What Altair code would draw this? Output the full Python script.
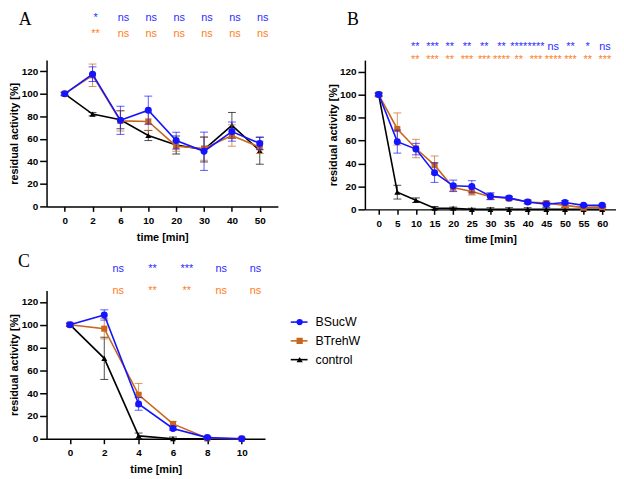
import altair as alt
import pandas as pd

SERIES = ["BSucW", "BTrehW", "control"]
DRAW_ORDER = ["control", "BTrehW", "BSucW"]
COLORS = {"BSucW": "#1414ff", "BTrehW": "#c8661a", "control": "#000000"}
SHAPES = {"BSucW": "circle", "BTrehW": "square", "control": "triangle-up"}
SIZES = {"BSucW": 50, "BTrehW": 38, "control": 36}
STAR_BLUE = "#2a2aff"
STAR_ORANGE = "#ff7d22"

# ---------------- Panel A ----------------
A_time = [0, 2, 6, 10, 20, 30, 40, 50]
A_sucw = [100, 117.5, 76.5, 85.5, 58.5, 49, 66.5, 56]
A_sucw_err = [1.5, 6.5, 12.5, 12.5, 7.5, 17, 8.5, 5.5]
A_treh = [100, 116.5, 76, 75.5, 53.5, 51.5, 63, 52.5]
A_treh_err = [1.5, 10, 9, 8, 4.5, 10.5, 9.5, 5.5]
A_ctrl = [100, 82, 77, 63, 54.5, 50.5, 72, 49.5]
A_ctrl_err = [1, 1.5, 8, 4.5, 8, 11, 11.5, 12]
A_star_time = [2, 6, 10, 20, 30, 40, 50]
A_star_sucw = ["*", "ns", "ns", "ns", "ns", "ns", "ns"]
A_star_treh = ["**", "ns", "ns", "ns", "ns", "ns", "ns"]

# ---------------- Panel B ----------------
B_time = [0, 5, 10, 15, 20, 25, 30, 35, 40, 45, 50, 55, 60]
B_sucw = [100, 59, 52.5, 32, 20.5, 20, 11.5, 10, 6.5, 4.5, 6, 3.5, 3.5]
B_sucw_err = [1.5, 10, 5, 8.5, 5, 5, 3, 1.5, 1.5, 1.5, 1.5, 1, 1]
B_treh = [100, 70, 53, 38.5, 19, 15.5, 11, 9.5, 6.5, 5.5, 3.5, 1.5, 2]
B_treh_err = [2, 14, 8, 8, 3, 3, 2.5, 1.5, 1.5, 1.5, 1.5, 1, 1]
B_ctrl = [100, 15, 8, 1, 1, 0, 0, 0, 0, 0, 0, 0, 0]
B_ctrl_err = [1, 6, 2, 1.5, 1, 1, 1.5, 1.5, 1.5, 1.5, 1.5, 1.5, 1.5]
B_star_time = [5, 10, 15, 20, 25, 30, 35, 40, 45, 50, 55, 60]
B_star_sucw = ["**", "***", "**", "**", "**", "**", "****", "****", "ns", "**", "*", "ns"]
B_star_treh = ["**", "***", "**", "***", "***", "****", "**", "***", "****", "***", "**", "***"]

# ---------------- Panel C ----------------
C_time = [0, 2, 4, 6, 8, 10]
C_sucw = [100, 108.5, 30.5, 9, 1, 0]
C_sucw_err = [1.5, 4.5, 5.5, 1.5, 1, 0.5]
C_treh = [100, 96.5, 38.5, 13, 0.5, 0]
C_treh_err = [1.5, 9, 10, 2, 0.5, 0.5]
C_ctrl = [100, 70.5, 2.5, 0, 0, 0]
C_ctrl_err = [1, 18.5, 2.5, 1.5, 1.5, 0.5]
C_star_time = [2, 4, 6, 8, 10]
C_star_sucw = ["ns", "**", "***", "ns", "ns"]
C_star_treh = ["ns", "**", "**", "ns", "ns"]

FONT = "Liberation Sans"


def series_df(times, vals, errs):
    return pd.DataFrame({
        "t": times,
        "v": vals,
        "lo": [max(v - e, 0) for v, e in zip(vals, errs)],
        "hi": [v + e for v, e in zip(vals, errs)],
    })


def panel(times, data, star_time, star_s, star_t, letter, w, h, pad,
          y_blue, y_orange, star_dx, letter_x, letter_y, star_scale=None):
    indep = star_scale is not None
    xscale = alt.Scale(domain=times, type="point", padding=pad)
    xax = alt.Axis(title="time [min]", labelAngle=0, values=times)
    yscale = alt.Scale(domain=[0, 130], nice=False)
    yax = alt.Axis(title="residual activity [%]", values=[0, 20, 40, 60, 80, 100, 120],
                   titleX=-27)
    layers = []
    first = True
    for s in DRAW_ORDER:
        df = series_df(times, *data[s])
        base = alt.Chart(df)
        c = COLORS[s]
        ylo = alt.Y("lo:Q", scale=yscale, axis=yax)
        yhi = alt.Y("hi:Q", scale=yscale, axis=yax)
        yv = alt.Y("v:Q", scale=yscale, axis=yax)
        for kind in range(5):
            if indep:
                x = alt.X("t:O", scale=xscale, axis=xax if first else None)
            else:
                x = alt.X("t:O", scale=xscale, axis=xax)
            first = False
            if kind == 0:
                layers.append(base.mark_rule(color=c, strokeWidth=1, opacity=0.7).encode(
                    x=x, y=ylo, y2="hi:Q"))
            elif kind == 1:
                layers.append(base.mark_tick(color=c, size=8, thickness=1, opacity=0.7).encode(
                    x=x, y=ylo))
            elif kind == 2:
                layers.append(base.mark_tick(color=c, size=8, thickness=1, opacity=0.7).encode(
                    x=x, y=yhi))
            elif kind == 3:
                layers.append(base.mark_line(color=c, strokeWidth=1.6).encode(x=x, y=yv))
            else:
                layers.append(base.mark_point(color=c, filled=True, opacity=1,
                                              shape=SHAPES[s], size=SIZES[s]).encode(x=x, y=yv))
    lab = alt.Chart(pd.DataFrame({"l": [letter]})).mark_text(
        font="Liberation Serif", fontSize=18, align="left", baseline="alphabetic",
        color="black").encode(x=alt.value(letter_x), y=alt.value(letter_y), text="l:N")

    sdf = pd.DataFrame({"ts": star_time, "a": star_s, "b": star_t})
    if indep:
        sx = alt.X("ts:Q", scale=star_scale, axis=None)
    else:
        sx = alt.X("ts:O", scale=xscale, axis=xax)
    stars = [
        alt.Chart(sdf).mark_text(color=STAR_BLUE, fontSize=11, font=FONT, dx=star_dx,
                                 baseline="alphabetic").encode(
            x=sx, y=alt.value(y_blue), text="a:N"),
        alt.Chart(sdf).mark_text(color=STAR_ORANGE, fontSize=11, font=FONT, dx=star_dx,
                                 baseline="alphabetic").encode(
            x=sx, y=alt.value(y_orange), text="b:N"),
    ]
    ch = alt.layer(*layers, lab, *stars).properties(width=w, height=h)
    if indep:
        ch = ch.resolve_scale(x="independent")
    return ch


A = panel(A_time,
          {"BSucW": (A_sucw, A_sucw_err), "BTrehW": (A_treh, A_treh_err),
           "control": (A_ctrl, A_ctrl_err)},
          A_star_time, A_star_sucw, A_star_treh, "A", 234, 148, 0.65,
          -40, -23, 3, -28, -35)

B = panel(B_time,
          {"BSucW": (B_sucw, B_sucw_err), "BTrehW": (B_treh, B_treh_err),
           "control": (B_ctrl, B_ctrl_err)},
          B_star_time, B_star_sucw, B_star_treh, "B", 254, 151, 0.74,
          -10, 3, 0, -18, -36,
          star_scale=alt.Scale(domain=[-9.6, 63.2], nice=False, zero=False))

C = panel(C_time,
          {"BSucW": (C_sucw, C_sucw_err), "BTrehW": (C_treh, C_treh_err),
           "control": (C_ctrl, C_ctrl_err)},
          C_star_time, C_star_sucw, C_star_treh, "C", 221, 150, 0.68,
          -19, 4, 14, -29, -24)

# Legend built from series names
ldf = pd.DataFrame({"s": SERIES})
ly = alt.Y("s:N", scale=alt.Scale(domain=SERIES, type="point", range=[32, 70], padding=0),
           axis=None)
lcolor = alt.Color("s:N", scale=alt.Scale(domain=SERIES, range=[COLORS[s] for s in SERIES]),
                   legend=None)
lshape = alt.Shape("s:N", scale=alt.Scale(domain=SERIES, range=[SHAPES[s] for s in SERIES]),
                   legend=None)
legend = alt.layer(
    alt.Chart(ldf).mark_rule(strokeWidth=1.6).encode(
        y=ly, x=alt.value(0), x2=alt.value(17), color=lcolor),
    alt.Chart(ldf).mark_point(filled=True, opacity=1, size=40).encode(
        y=ly, x=alt.value(9), color=lcolor, shape=lshape),
    alt.Chart(ldf).mark_text(align="left", baseline="middle", fontSize=12.5, font=FONT,
                             color="black").encode(
        y=ly, x=alt.value(25), text="s:N"),
).properties(width=70, height=108)

row1 = alt.hconcat(A, B, spacing=88, bounds="flush")
row2 = alt.hconcat(C, legend, spacing=26, bounds="flush")

chart = alt.vconcat(row1, row2, spacing=8).properties(
    padding=0
).configure_view(stroke=None).configure_axis(
    grid=False,
    domainColor="black", domainWidth=1.5,
    tickColor="black", tickWidth=1.5,
    labelFont=FONT, labelFontWeight="bold", labelFontSize=10, labelColor="black",
    titleFont=FONT, titleFontWeight="bold", titleFontSize=11, titleColor="black",
).configure_axisX(
    tickSize=5, labelPadding=4, titlePadding=6,
).configure_axisY(
    tickSize=7, labelPadding=2,
)

chart.save("out.html", embed_options={"renderer": "svg", "actions": False})
